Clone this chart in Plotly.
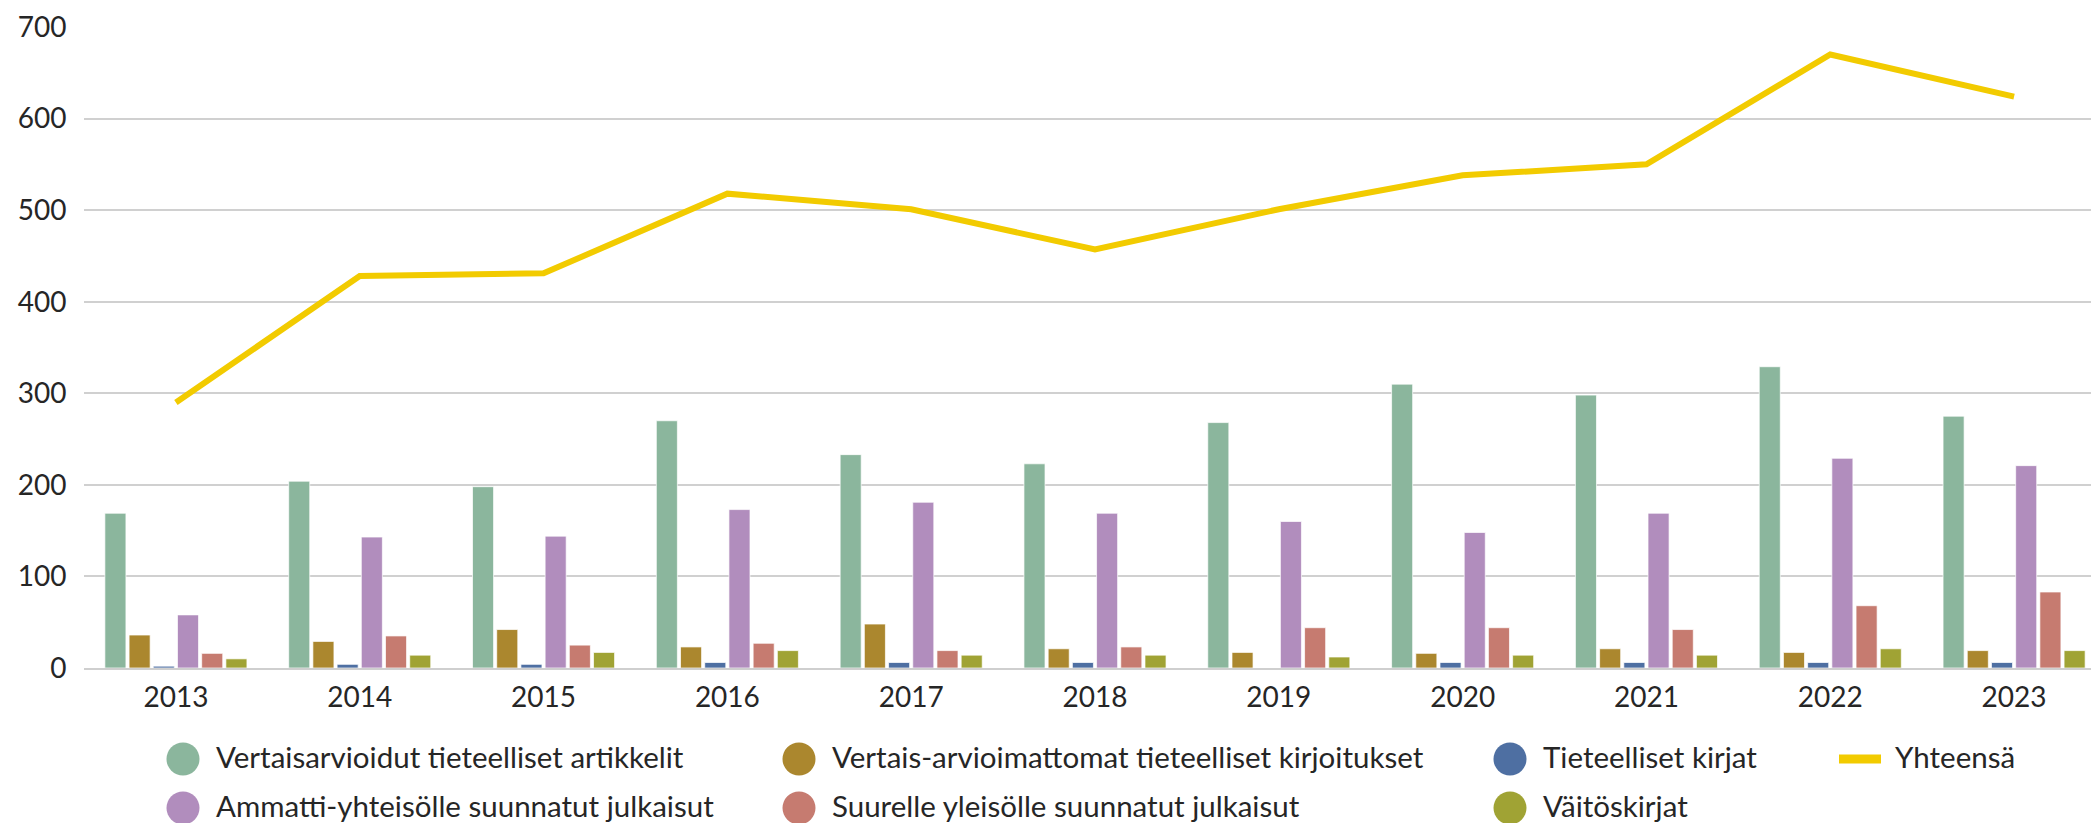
import plotly.graph_objects as go

years = ["2013", "2014", "2015", "2016", "2017", "2018", "2019", "2020", "2021", "2022", "2023"]

vertaisarvioidut = [169, 204, 198, 270, 233, 223, 268, 310, 298, 329, 275]
vertais_arvioimattomat = [36, 29, 42, 23, 48, 21, 17, 16, 21, 17, 19]
tieteelliset_kirjat = [2, 4, 4, 6, 6, 6, 0, 6, 6, 6, 6]
ammatti_yhteisolle = [58, 143, 144, 173, 181, 169, 160, 148, 169, 229, 221]
suurelle_yleisolle = [16, 35, 25, 27, 19, 23, 44, 44, 42, 68, 83]
vaitoskirjat = [10, 14, 17, 19, 14, 14, 12, 14, 14, 21, 19]
yhteensa = [290, 428, 431, 518, 501, 457, 501, 538, 550, 670, 624]

bar_names = [
    "Vertaisarvioidut tieteelliset artikkelit",
    "Vertais-arvioimattomat tieteelliset kirjoitukset",
    "Tieteelliset kirjat",
    "Ammatti-yhteisölle suunnatut julkaisut",
    "Suurelle yleisölle suunnatut julkaisut",
    "Väitöskirjat",
]
line_name = "Yhteensä"
bar_values = [vertaisarvioidut, vertais_arvioimattomat, tieteelliset_kirjat,
              ammatti_yhteisolle, suurelle_yleisolle, vaitoskirjat]
bar_colors = ["#8BB69D", "#AB872E", "#4E6FA2", "#B18DBD", "#C67B70", "#A0A334"]
line_color = "#F2CB00"
y_ticks = [0, 100, 200, 300, 400, 500, 600, 700]

W, H = 2099, 823
ML, MR, MT, MB = 76, 1, 19, 163
PW, PH = W - ML - MR, H - MT - MB
FONT = "Lato"
TXT = "#262626"

fig = go.Figure()
for name, vals, col in zip(bar_names, bar_values, bar_colors):
    fig.add_trace(go.Bar(x=years, y=vals, name=name, marker_color=col,
                         marker_line=dict(color="rgba(255,255,255,0.7)", width=1),
                         showlegend=False))
fig.add_trace(go.Scatter(x=years, y=yhteensa, name=line_name, mode="lines",
                         line=dict(color=line_color, width=6), showlegend=False))

# custom legend (pixel layout -> paper coords)
def px(xp):
    return (xp - ML) / PW

def py(yp):
    return (H - MB - yp) / PH

ROW1, ROW2 = 751, 800
legend_items = [
    (bar_names[0], bar_colors[0], 175, ROW1, "circle"),
    (bar_names[1], bar_colors[1], 791, ROW1, "circle"),
    (bar_names[2], bar_colors[2], 1502, ROW1, "circle"),
    (line_name, line_color, 1852, ROW1, "line"),
    (bar_names[3], bar_colors[3], 175, ROW2, "circle"),
    (bar_names[4], bar_colors[4], 791, ROW2, "circle"),
    (bar_names[5], bar_colors[5], 1502, ROW2, "circle"),
]
shapes = []
annotations = []
for name, col, cx, cy, kind in legend_items:
    if kind == "circle":
        shapes.append(dict(type="circle", xref="paper", yref="paper",
                           xsizemode="pixel", ysizemode="pixel",
                           xanchor=px(cx), yanchor=py(cy),
                           x0=-16.5, x1=16.5, y0=-16.5, y1=16.5,
                           fillcolor=col, line=dict(width=0)))
        tx = cx + 31
    else:
        shapes.append(dict(type="line", xref="paper", yref="paper",
                           xsizemode="pixel", ysizemode="pixel",
                           xanchor=px(cx), yanchor=py(cy),
                           x0=-21, x1=21, y0=0, y1=0,
                           line=dict(color=col, width=9)))
        tx = cx + 33
    annotations.append(dict(text=name, xref="paper", yref="paper",
                            x=px(tx), y=py(cy - 3), xanchor="left", yanchor="middle",
                            showarrow=False, font=dict(family=FONT, size=29.5, color=TXT)))

fig.update_layout(
    width=W, height=H,
    margin=dict(l=ML, r=MR, t=MT, b=MB),
    paper_bgcolor="white", plot_bgcolor="white",
    barmode="group", bargap=0.21, bargroupgap=0.13,
    font=dict(family=FONT, size=28, color=TXT),
    shapes=shapes, annotations=annotations,
    showlegend=False,
)
fig.update_xaxes(type="category", showgrid=False, showline=True,
                 linecolor="#CFCFCF", linewidth=2, ticks="",
                 tickfont=dict(family=FONT, size=28, color=TXT),
                 ticklabelstandoff=3)
fig.update_yaxes(range=[0, 700], tickvals=y_ticks, showgrid=True,
                 gridcolor="#D0D0D0", gridwidth=1.5, zeroline=False,
                 showline=False, ticks="outside", ticklen=11,
                 tickcolor="rgba(0,0,0,0)",
                 tickfont=dict(family=FONT, size=28, color=TXT))

fig.write_html("out.html")
